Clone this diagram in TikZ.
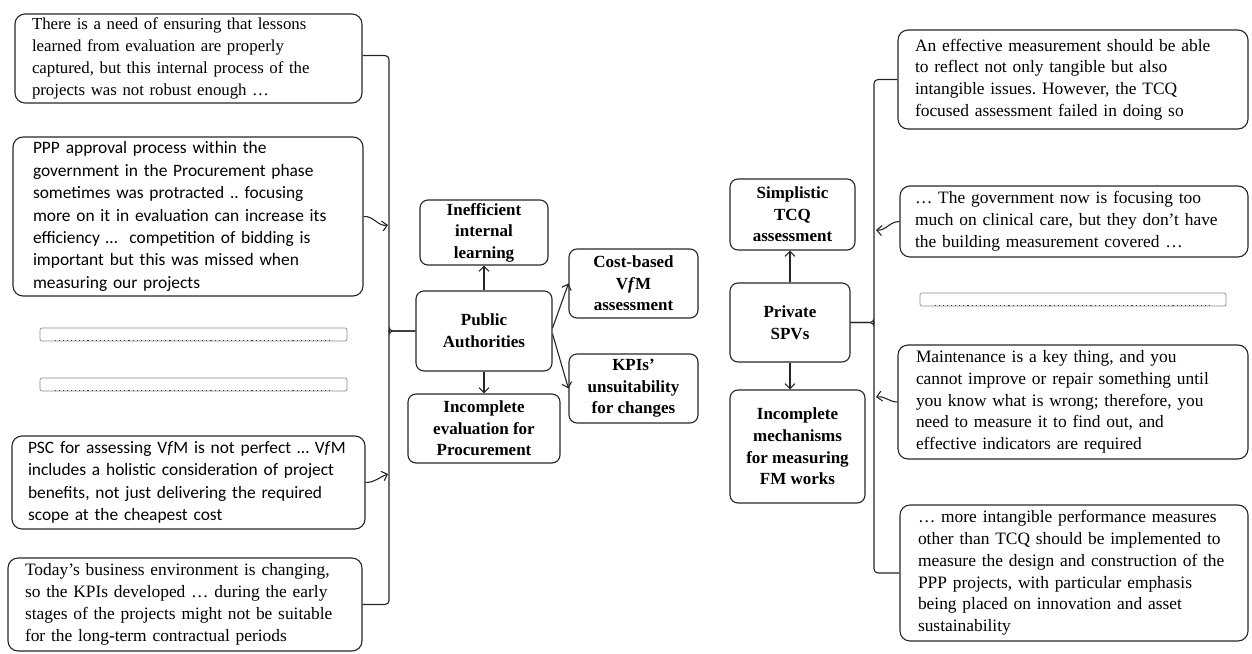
\documentclass[tikz,border=0pt]{standalone}
\usepackage{fontspec}
\setmainfont{Liberation Serif}
\newfontfamily\calfont{Carlito}
\usetikzlibrary{arrows.meta,calc}
\frenchspacing

\begin{document}
\begin{tikzpicture}[x=1pt,y=-1pt,
  box/.style={draw=black!85, line width=1.1pt, rounded corners=10pt,
    align=left, inner ysep=0pt,
    font=\fontsize{17.4}{21.8}\selectfont},
  sansbox/.style={box, font=\calfont\fontsize{17.4}{22.4}\selectfont},
  theme/.style={draw=black!85, line width=1.1pt, rounded corners=8pt,
    align=center, inner sep=0pt,
    font=\bfseries\fontsize{17}{21.6}\selectfont},
  bar/.style={draw=black!45, line width=0.7pt, rounded corners=2pt,
    minimum width=307pt, minimum height=13pt, inner sep=0pt},
  dots/.style={black!75, line width=1.1pt, dash pattern=on 1.1pt off 3pt},
  link/.style={black!85, line width=1.1pt},
  arr/.style={link, -{Straight Barb[length=5pt,width=10pt]}},
]
\useasboundingbox (0,0) rectangle (1252,653);

% quotations, left column
\node[box, font=\fontsize{16.8}{21.8}\selectfont, minimum width=347pt, minimum height=89pt,
  inner xsep=17pt, text width=313pt]
  (l1) at (188.5,58.5) {There is a need of ensuring that lessons\\
  learned from evaluation are properly\\
  captured, but this internal process of the\\
  projects was not robust enough …};
\node[sansbox, minimum width=350pt, minimum height=159pt, inner xsep=20pt, text width=310pt]
  (l2) at (188,216.5) {PPP approval process within the\\
  government in the Procurement phase\\
  sometimes was protracted .. focusing\\
  more on it in evaluation can increase its\\
  efficiency …\ \ competition of bidding is\\
  important but this was missed when\\
  measuring our projects};
\node[bar] (b1) at (193.5,334.5) {};
\node[bar] (b2) at (193.5,384.5) {};
\node[sansbox, minimum width=353pt, minimum height=93pt, inner xsep=16pt, text width=321pt]
  (l3) at (188.5,482.5) {PSC for assessing V\textit{f}M is not perfect … V\textit{f}M\\
  includes a holistic consideration of project\\
  benefits, not just delivering the required\\
  scope at the cheapest cost};
\node[box, minimum width=354pt, minimum height=93pt, inner xsep=17pt, text width=320pt]
  (l4) at (185,604.5) {Today’s business environment is changing,\\
  so the KPIs developed … during the early\\
  stages of the projects might not be suitable\\
  for the long-term contractual periods};

% themes, public side
\node[theme, minimum width=128pt, minimum height=65pt] (ineff) at (484,232.5)
  {Inefficient\\internal\\learning};
\node[theme, minimum width=136pt, minimum height=80pt] (pa) at (484,331)
  {Public\\Authorities};
\node[theme, minimum width=152pt, minimum height=69pt] (ince) at (484,428.5)
  {Incomplete\\evaluation for\\Procurement};
\node[theme, minimum width=129pt, minimum height=69pt] (cost) at (633.5,283.5)
  {Cost-based\\V\textit{f}M\\assessment};
\node[theme, minimum width=129pt, minimum height=69pt] (kpi) at (633.5,388.5)
  {KPIs’\\unsuitability\\for changes};

% themes, private side
\node[theme, minimum width=125pt, minimum height=71pt] (simp) at (792.5,214.5)
  {Simplistic\\TCQ\\assessment};
\node[theme, minimum width=120pt, minimum height=79pt] (spv) at (790,322.5)
  {Private\\SPVs};
\node[theme, minimum width=135pt, minimum height=113pt] (incm) at (797.5,446.5)
  {Incomplete\\mechanisms\\for measuring\\FM works};

% quotations, right column
\node[box, minimum width=350pt, minimum height=99pt, inner xsep=17pt, text width=316pt]
  (r1) at (1073,79.5) {An effective measurement should be able\\
  to reflect not only tangible but also\\
  intangible issues. However, the TCQ\\
  focused assessment failed in doing so};
\node[box, minimum width=348pt, minimum height=71pt, inner xsep=15pt, text width=318pt]
  (r2) at (1074,221.5) {… The government now is focusing too\\
  much on clinical care, but they don’t have\\
  the building measurement covered …};
\node[bar, minimum width=306pt] (b3) at (1073,299.5) {};
\node[box, minimum width=350pt, minimum height=114pt, inner xsep=18pt, text width=314pt]
  (r3) at (1073,402) {Maintenance is a key thing, and you\\
  cannot improve or repair something until\\
  you know what is wrong; therefore, you\\
  need to measure it to find out, and\\
  effective indicators are required};
\node[box, minimum width=348pt, minimum height=136pt, inner xsep=18pt, text width=312pt]
  (r4) at (1074,573) {… more intangible performance measures\\
  other than TCQ should be implemented to\\
  measure the design and construction of the\\
  PPP projects, with particular emphasis\\
  being placed on innovation and asset\\
  sustainability};

% elided quotations
\foreach \b in {b1,b2,b3}
  \draw[dots] ([xshift=15pt,yshift=1pt]\b.south west) -- ([xshift=-15pt,yshift=1pt]\b.south east);

% left brace gathering the public-side quotations
\coordinate (lspine) at (389,331);
\draw[link, rounded corners=4pt] ([yshift=3pt]l1.east) -| ([yshift=3pt]lspine) |- (pa.west);
\draw[link, rounded corners=4pt] (l4.east) -| ([yshift=-3pt]lspine) |- (pa.west);
\coordinate (la2) at (388,225);
\coordinate (la3) at (388,474);
\draw[arr] (l2.east) to[out=5,in=190] (la2);
\draw[arr] (l3.east) to[out=0,in=200] (la3);

% right brace gathering the private-side quotations
\coordinate (rspine) at (874,322.5);
\draw[link, rounded corners=4pt] (r1.west) -| ([yshift=3pt]rspine) |- (spv.east);
\draw[link, rounded corners=4pt] (r4.west) -| ([yshift=-3pt]rspine) |- (spv.east);
\coordinate (ra2) at (876,230);
\coordinate (ra3) at (876,397);
\draw[arr] (r2.west) to[out=180,in=-5] (ra2);
\draw[arr] (r3.west) to[out=180,in=10] (ra3);

% theme arrows
\draw[arr] (pa.north) -- (ineff.south);
\draw[arr] (pa.south) -- (ince.north);
\draw[arr] ([yshift=3pt]pa.east) -- (cost.west);
\draw[arr] ([yshift=-3pt]pa.east) -- (kpi.west);
\draw[arr] (spv.north) -- (spv.north |- simp.south);
\draw[arr] (spv.south) -- (spv.south |- incm.north);
\end{tikzpicture}
\end{document}
